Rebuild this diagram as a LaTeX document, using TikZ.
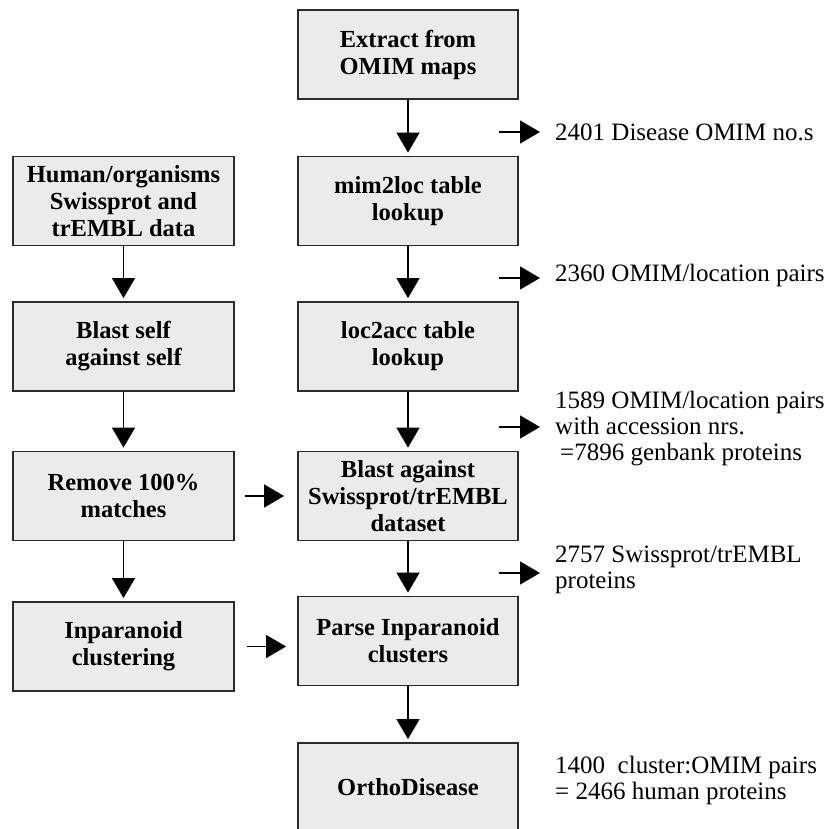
\documentclass[tikz,border=0pt]{standalone}
\usepackage{fontspec}
\setmainfont{Liberation Serif}
\usetikzlibrary{arrows.meta}
\definecolor{boxfill}{HTML}{EBEBEB}
\definecolor{boxline}{HTML}{2B2B2B}
\begin{document}
\begin{tikzpicture}[x=1pt,y=-1pt,
  box/.style={draw=boxline, fill=boxfill, line width=1.8pt, minimum width=220pt, minimum height=89pt, align=center, font=\fontsize{24.5}{27}\selectfont\bfseries, inner sep=0pt},
  arr/.style={line width=1.4pt, -{Triangle[length=20pt,width=23pt]}},
  note/.style={anchor=west, align=left, font=\fontsize{25}{26}\selectfont, inner sep=0pt}]
\useasboundingbox (0,0) rectangle (833,829);
% right column
\node[box] (ext) at (408,54.5) {Extract from\\OMIM maps};
\node[box] (mim) at (408,201) {mim2loc table\\lookup};
\node[box] (l2a) at (408,346.5) {loc2acc table\\lookup};
\node[box] (bla) at (408,496) {Blast against\\Swissprot/trEMBL\\dataset};
\node[box] (par) at (408,641) {Parse Inparanoid\\clusters};
\node[box] (ort) at (408,787.5) {OrthoDisease};
% left column
\node[box, minimum width=221pt] (hum) at (123.5,201) {Human/organisms\\Swissprot and\\trEMBL data};
\node[box, minimum width=221pt] (bss) at (123.5,346.5) {Blast self\\against self};
\node[box, minimum width=221pt] (rem) at (123.5,496) {Remove 100\%\\matches};
\node[box, minimum width=221pt] (inp) at (123.5,646.5) {Inparanoid\\clustering};
% vertical arrows
\draw[arr] (ext.south) -- ([yshift=3pt]mim.north);
\draw[arr] (mim.south) -- ([yshift=3pt]l2a.north);
\draw[arr] (l2a.south) -- ([yshift=3pt]bla.north);
\draw[arr] (bla.south) -- ([yshift=3pt]par.north);
\draw[arr] (par.south) -- ([yshift=3pt]ort.north);
\draw[arr] (hum.south) -- ([yshift=3pt]bss.north);
\draw[arr] (bss.south) -- ([yshift=3pt]rem.north);
\draw[arr] (rem.south) -- ([yshift=3pt]inp.north);
% horizontal arrows
\draw[arr] ([xshift=10pt]rem.east) -- ([xshift=-13pt]bla.west);
\coordinate (pin) at (par.west |- inp.east);
\draw[arr] ([xshift=12pt]inp.east) -- ([xshift=-11pt]pin);
% side notes
\coordinate (s1a) at (499,132); \coordinate (s1b) at (540,132);
\coordinate (s2a) at (499,278); \coordinate (s2b) at (540,278);
\coordinate (s3a) at (499,427); \coordinate (s3b) at (540,427);
\coordinate (s4a) at (499,573); \coordinate (s4b) at (540,573);
\draw[arr] (s1a) -- (s1b);
\draw[arr] (s2a) -- (s2b);
\draw[arr] (s3a) -- (s3b);
\draw[arr] (s4a) -- (s4b);
\node[note] (n1) at (555,132) {2401 Disease OMIM no.s};
\node[note] (n2) at (555,275) {2360 OMIM/location pairs};
\node[note] (n3) at (555,429) {1589 OMIM/location pairs\\with accession nrs.\\\hspace*{5pt}=7896 genbank proteins};
\node[note] (n4) at (555,569.5) {2757 Swissprot/trEMBL\\proteins};
\node[note] (n5) at (555,780.5) {1400\ \ cluster:OMIM pairs\\= 2466 human proteins};
\end{tikzpicture}
\end{document}
